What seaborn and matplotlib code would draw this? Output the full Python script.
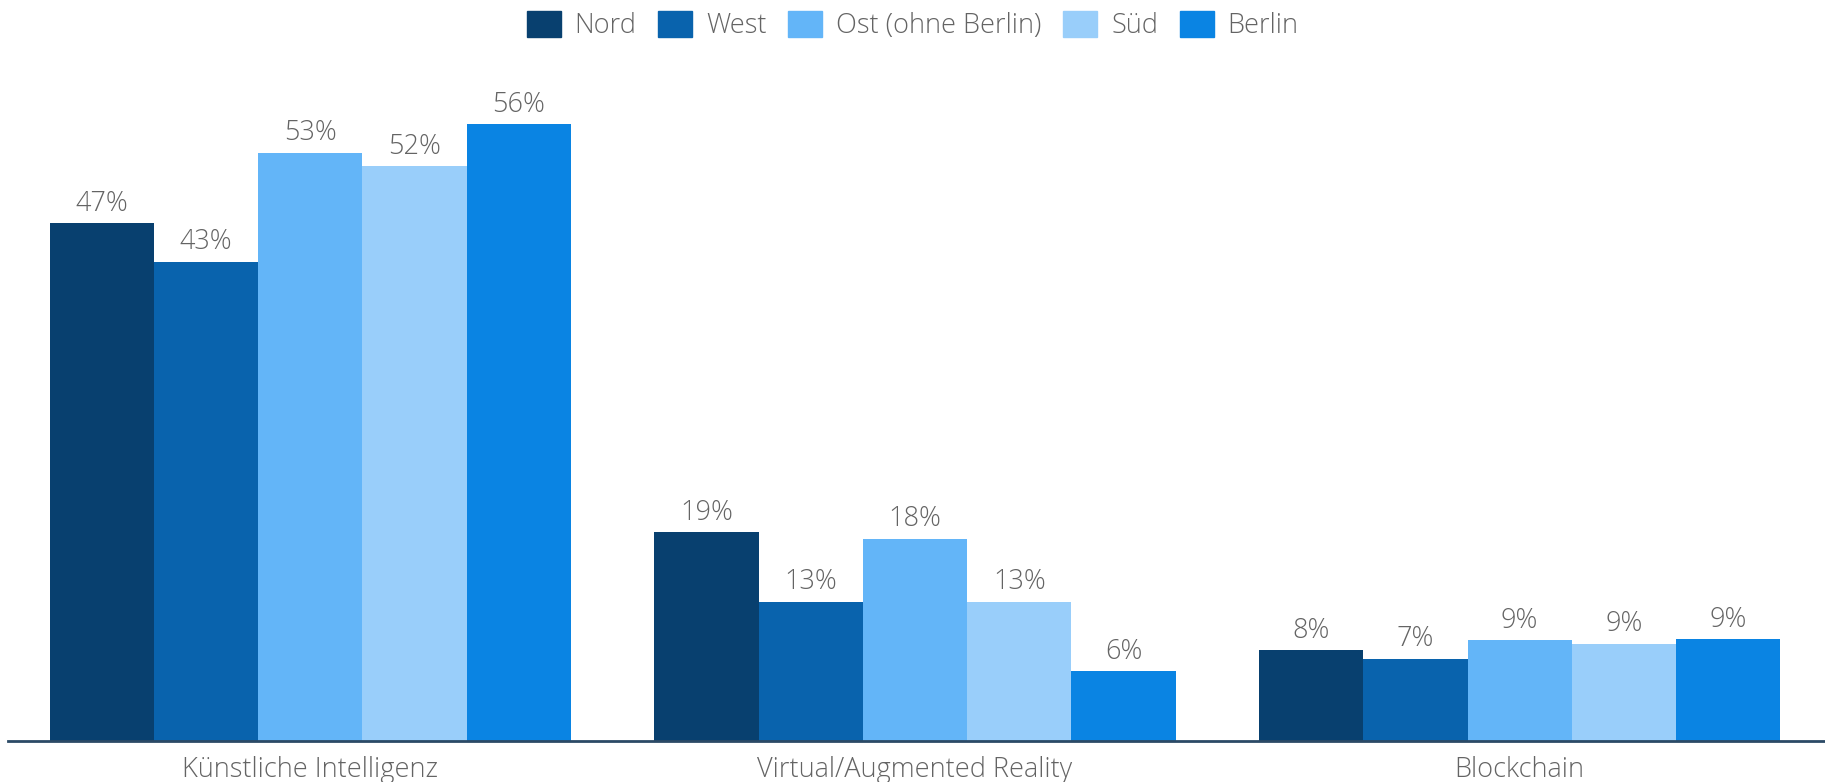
import matplotlib
matplotlib.use("Agg")
import matplotlib.pyplot as plt
import seaborn as sns
import pandas as pd

# Share of companies per region using each technology (%)
technologies = ["Künstliche Intelligenz", "Virtual/Augmented Reality", "Blockchain"]
regions = ["Nord", "West", "Ost (ohne Berlin)", "Süd", "Berlin"]
nord = [46.9, 18.9, 8.2]
west = [43.4, 12.6, 7.4]
ost = [53.3, 18.3, 9.1]
sued = [52.1, 12.6, 8.8]
berlin = [55.9, 6.3, 9.2]

colors = ["#08406F", "#0963AD", "#63B5F8", "#99CEFA", "#0A84E3"]

rows = []
for region, vals in zip(regions, [nord, west, ost, sued, berlin]):
    for tech, v in zip(technologies, vals):
        rows.append({"Technologie": tech, "Region": region, "Anteil": v})
df = pd.DataFrame(rows)

sns.set_theme(style="white")
plt.rcParams["font.family"] = ["Open Sans", "DejaVu Sans"]

fig = plt.figure(figsize=(18.25, 7.82), dpi=100)
ax = fig.add_axes([0.0044, 0.053, 0.9956, 0.846])

sns.barplot(data=df, x="Technologie", y="Anteil", hue="Region",
            order=technologies, hue_order=regions, palette=colors,
            width=0.862, gap=0, saturation=1, ax=ax, legend=False,
            edgecolor="none", linewidth=0, errorbar=None)

text_color = "#646464"
fs = 19.5
for container in ax.containers:
    ax.bar_label(container, labels=[f"{v:.0f}%" for v in container.datavalues],
                 padding=4, fontsize=fs, color=text_color, fontweight="light")

ax.set_xlim(-0.5, 2.505)
ax.set_ylim(0, 60)
ax.set_xlabel("")
ax.set_ylabel("")
ax.set_yticks([])
ax.tick_params(axis="x", length=0, pad=11, labelsize=fs, labelcolor=text_color)
for lbl in ax.get_xticklabels():
    lbl.set_fontweight("light")
for side in ["top", "right", "left"]:
    ax.spines[side].set_visible(False)
ax.spines["bottom"].set_color("#2B4A66")
ax.spines["bottom"].set_linewidth(2)

handles = [plt.Rectangle((0, 0), 1, 1, color=c) for c in colors]
leg = fig.legend(handles, regions, loc="center", bbox_to_anchor=(0.5, 0.967),
                 ncol=5, frameon=False, fontsize=fs, handlelength=1.27,
                 handleheight=1.1, handletextpad=0.5, columnspacing=0.8)
for t in leg.get_texts():
    t.set_color(text_color)
    t.set_fontweight("light")

fig.savefig("out.png", dpi=100)
